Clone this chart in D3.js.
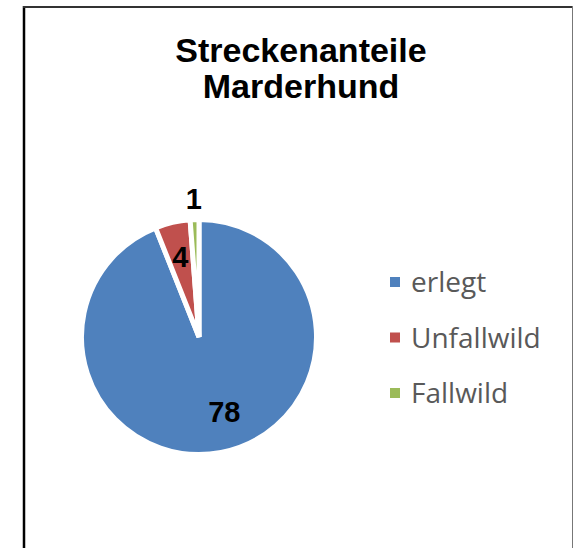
<!DOCTYPE html>
<html>
<head>
<meta charset="utf-8">
<script src="https://cdn.jsdelivr.net/npm/d3@7"></script>
<style>
  body { margin: 0; background: #fff; }
</style>
</head>
<body>
<div id="chart"></div>
<script>
// data
var categories = ["erlegt", "Unfallwild", "Fallwild"];
var values = [78, 4, 1];
var colors = ["#4F81BD", "#C0504D", "#9BBB59"];
var titleLines = ["Streckenanteile", "Marderhund"];

var width = 574, height = 548;
var svg = d3.select("#chart").append("svg")
  .attr("width", width)
  .attr("height", height);

svg.append("rect").attr("width", width).attr("height", height).attr("fill", "#fff");

// frame (left, top, right)
svg.append("line").attr("x1", 24).attr("y1", 6).attr("x2", 24).attr("y2", height)
  .attr("stroke", "#000").attr("stroke-width", 2.5);
svg.append("line").attr("x1", 23).attr("y1", 7).attr("x2", 573).attr("y2", 7)
  .attr("stroke", "#333").attr("stroke-width", 2);
svg.append("line").attr("x1", 572.5).attr("y1", 6).attr("x2", 572.5).attr("y2", height)
  .attr("stroke", "#777").attr("stroke-width", 1);

// title
svg.append("text")
  .attr("x", 301).attr("y", 62)
  .attr("text-anchor", "middle")
  .style("font-family", "'Liberation Sans', Arial, sans-serif")
  .style("font-weight", "bold")
  .style("font-size", "34px")
  .selectAll("tspan")
  .data(titleLines)
  .enter().append("tspan")
    .attr("x", 301)
    .attr("dy", function(d, i) { return i == 0 ? 0 : 36; })
    .text(function(d) { return d; });

// pie
var cx = 199, cy = 337, r = 115;
var pie = d3.pie().sort(null).value(function(d) { return d; });
var arcs = pie(values);
var arc = d3.arc().innerRadius(0).outerRadius(r + 2.5);

var g = svg.append("g").attr("transform", "translate(" + cx + "," + cy + ")");

g.selectAll("path")
  .data(arcs)
  .enter().append("path")
    .attr("d", arc)
    .attr("fill", function(d, i) { return colors[i]; })
    .attr("stroke", "#fff")
    .attr("stroke-width", 5)
    .attr("stroke-linejoin", "miter");

// labels: inside for normal slices, outside for tiny ones
g.selectAll("text.lbl")
  .data(arcs)
  .enter().append("text")
    .attr("class", "lbl")
    .attr("transform", function(d) {
      var span = d.endAngle - d.startAngle;
      var rr = span < 0.2 ? r + 24 : span > 3 ? r * 0.66 : r * 0.72;
      var a = (d.startAngle + d.endAngle) / 2;
      var x = Math.sin(a) * rr, y = -Math.cos(a) * rr;
      if (span > 3) x += 11;
      return "translate(" + x + "," + y + ")";
    })
    .attr("text-anchor", "middle")
    .attr("dy", "0.36em")
    .style("font-family", "'Liberation Sans', Arial, sans-serif")
    .style("font-weight", "bold")
    .style("font-size", "29px")
    .style("fill", "#000")
    .text(function(d) { return d.data; });

// legend
var legendY = d3.scalePoint().domain(categories).range([282, 393]);
var legend = svg.append("g").selectAll("g")
  .data(categories)
  .enter().append("g")
    .attr("transform", function(d) { return "translate(390," + legendY(d) + ")"; });

legend.append("rect")
  .attr("x", 0).attr("y", -5)
  .attr("width", 10).attr("height", 10)
  .attr("fill", function(d, i) { return colors[i]; });

legend.append("text")
  .attr("x", 21).attr("dy", "0.36em")
  .style("font-family", "'Open Sans', sans-serif")
  .style("font-size", "28px")
  .style("fill", "#595959")
  .text(function(d) { return d; });
</script>
</body>
</html>
